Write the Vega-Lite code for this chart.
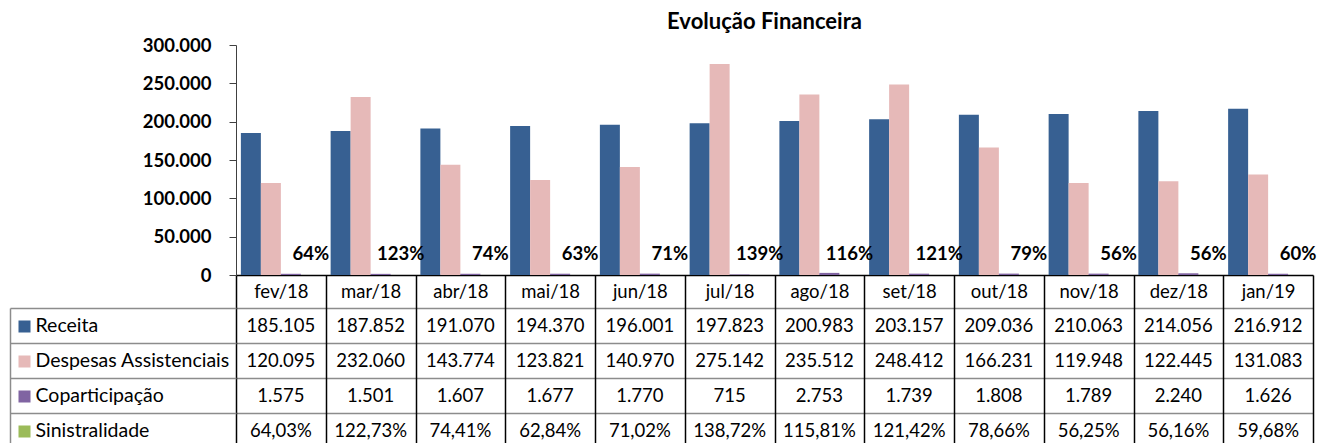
{
  "$schema": "https://vega.github.io/schema/vega-lite/v6.json",
  "width": 1077,
  "height": 403,
  "autosize": "none",
  "padding": {"left": 236, "top": 45, "right": 13, "bottom": 0},
  "background": "white",
  "title": {"text": "Evolução Financeira", "font": "Lato", "fontSize": 22, "fontWeight": "bold", "color": "#000000", "anchor": "middle", "frame": "group", "dx": -10, "dy": 9, "offset": 11},
  "config": {
    "locale": {"number": {"decimal": ",", "thousands": ".", "grouping": [3], "currency": ["R$", ""]}},
    "view": {"stroke": null},
    "axisX": {"orient": "bottom", "offset": -173, "tickBand": "extent", "tickSize": 180, "tickColor": "#000000", "tickWidth": 1.5, "domainColor": "#000000", "domainWidth": 1.5, "labelPadding": -163.5, "labelBaseline": "middle", "labelFont": "Lato", "labelFontSize": 18.5, "labelColor": "#000000", "labelAngle": 0, "title": null, "grid": false}
  },
  "data": {"values": [
    {"mes": "fev/18", "Receita": 185105, "Despesas Assistenciais": 120095, "Coparticipação": 1575, "Sinistralidade": 0.6403},
    {"mes": "mar/18", "Receita": 187852, "Despesas Assistenciais": 232060, "Coparticipação": 1501, "Sinistralidade": 1.2273},
    {"mes": "abr/18", "Receita": 191070, "Despesas Assistenciais": 143774, "Coparticipação": 1607, "Sinistralidade": 0.7441},
    {"mes": "mai/18", "Receita": 194370, "Despesas Assistenciais": 123821, "Coparticipação": 1677, "Sinistralidade": 0.6284},
    {"mes": "jun/18", "Receita": 196001, "Despesas Assistenciais": 140970, "Coparticipação": 1770, "Sinistralidade": 0.7102},
    {"mes": "jul/18", "Receita": 197823, "Despesas Assistenciais": 275142, "Coparticipação": 715, "Sinistralidade": 1.3872},
    {"mes": "ago/18", "Receita": 200983, "Despesas Assistenciais": 235512, "Coparticipação": 2753, "Sinistralidade": 1.1581},
    {"mes": "set/18", "Receita": 203157, "Despesas Assistenciais": 248412, "Coparticipação": 1739, "Sinistralidade": 1.2142},
    {"mes": "out/18", "Receita": 209036, "Despesas Assistenciais": 166231, "Coparticipação": 1808, "Sinistralidade": 0.7866},
    {"mes": "nov/18", "Receita": 210063, "Despesas Assistenciais": 119948, "Coparticipação": 1789, "Sinistralidade": 0.5625},
    {"mes": "dez/18", "Receita": 214056, "Despesas Assistenciais": 122445, "Coparticipação": 2240, "Sinistralidade": 0.5616},
    {"mes": "jan/19", "Receita": 216912, "Despesas Assistenciais": 131083, "Coparticipação": 1626, "Sinistralidade": 0.5968}
  ]},
  "transform": [{"fold": ["Receita", "Despesas Assistenciais", "Coparticipação", "Sinistralidade"], "as": ["serie", "valor"]}],
  "layer": [
    {
      "transform": [{"filter": "datum.serie !== 'Sinistralidade'"}],
      "mark": {"type": "bar"},
      "encoding": {
        "x": {"field": "mes", "type": "nominal", "sort": null, "scale": {"paddingInner": 0, "paddingOuter": 0}},
        "xOffset": {"field": "serie", "type": "nominal", "sort": null, "scale": {"domain": ["Receita", "Despesas Assistenciais", "Coparticipação", "Sinistralidade"], "paddingInner": 0, "paddingOuter": 0.244}},
        "y": {"field": "valor", "type": "quantitative", "scale": {"domain": [0, 300000], "range": [230, 0], "nice": false},
          "axis": {"orient": "left", "values": [0, 50000, 100000, 150000, 200000, 250000, 300000], "format": ",d", "domain": true, "domainColor": "#404040", "domainWidth": 1, "ticks": true, "tickSize": 7, "tickColor": "#404040", "tickWidth": 1, "labelPadding": 18, "labelFont": "Lato", "labelFontSize": 18.5, "labelFontWeight": "bold", "labelColor": "#000000", "grid": false, "title": null}},
        "color": {"field": "serie", "type": "nominal", "scale": {"domain": ["Receita", "Despesas Assistenciais", "Coparticipação", "Sinistralidade"], "range": ["#376092", "#e6b9b8", "#8064a2", "#9bbb59"]}, "legend": null}
      }
    },
    {
      "transform": [{"filter": "datum.serie === 'Sinistralidade'"}],
      "mark": {"type": "text", "baseline": "alphabetic", "dy": -15, "font": "Lato", "fontSize": 18.5, "fontWeight": "bold", "color": "#000000"},
      "encoding": {
        "x": {"field": "mes", "type": "nominal", "sort": null},
        "xOffset": {"field": "serie", "type": "nominal", "sort": null, "scale": {"domain": ["Receita", "Despesas Assistenciais", "Coparticipação", "Sinistralidade"], "paddingInner": 0, "paddingOuter": 0.244}},
        "y": {"field": "valor", "type": "quantitative", "scale": {"domain": [0, 300000], "range": [230, 0], "nice": false}, "axis": null},
        "text": {"field": "valor", "type": "quantitative", "format": ".0%"}
      }
    },
    {
      "transform": [{"calculate": "datum.serie === 'Sinistralidade' ? format(datum.valor, '.2%') : format(datum.valor, ',d')", "as": "rotulo"}],
      "mark": {"type": "text", "font": "Lato", "fontSize": 18.5, "color": "#000000", "baseline": "middle"},
      "encoding": {
        "x": {"field": "mes", "type": "nominal", "sort": null},
        "y": {"field": "serie", "type": "nominal", "sort": null,
          "scale": {"domain": ["Receita", "Despesas Assistenciais", "Coparticipação", "Sinistralidade"], "range": [263, 403], "paddingInner": 0, "paddingOuter": 0},
          "axis": {"orient": "left", "tickBand": "extent", "tickSize": 226, "tickColor": "#8c8c8c", "tickWidth": 1.5, "grid": true, "gridColor": "#8c8c8c", "gridWidth": 1.5, "gridOpacity": 1, "labels": false, "domain": false, "title": null}},
        "text": {"field": "rotulo", "type": "nominal"}
      }
    },
    {
      "mark": {"type": "point", "opacity": 0},
      "encoding": {
        "y": {"field": "serie", "type": "nominal", "sort": null,
          "scale": {"domain": ["Receita", "Despesas Assistenciais", "Coparticipação", "Sinistralidade"], "range": [263, 403], "paddingInner": 0, "paddingOuter": 0},
          "axis": {"orient": "left", "offset": 226, "domain": true, "domainColor": "#8c8c8c", "domainWidth": 1.5, "ticks": true, "tickSize": -20, "tickWidth": 12, "tickDash": [0, 8, 12, 1000],
            "tickColor": {"condition": [{"test": "datum.value === 'Receita'", "value": "#376092"}, {"test": "datum.value === 'Despesas Assistenciais'", "value": "#e6b9b8"}, {"test": "datum.value === 'Coparticipação'", "value": "#8064a2"}], "value": "#9bbb59"},
            "labelAlign": "left", "labelBaseline": "middle", "labelPadding": -5, "labelFont": "Lato", "labelFontSize": 19.5, "labelColor": "#000000", "labelLimit": 0, "grid": false, "title": null}}
      }
    }
  ],
  "resolve": {"scale": {"y": "independent"}}
}
